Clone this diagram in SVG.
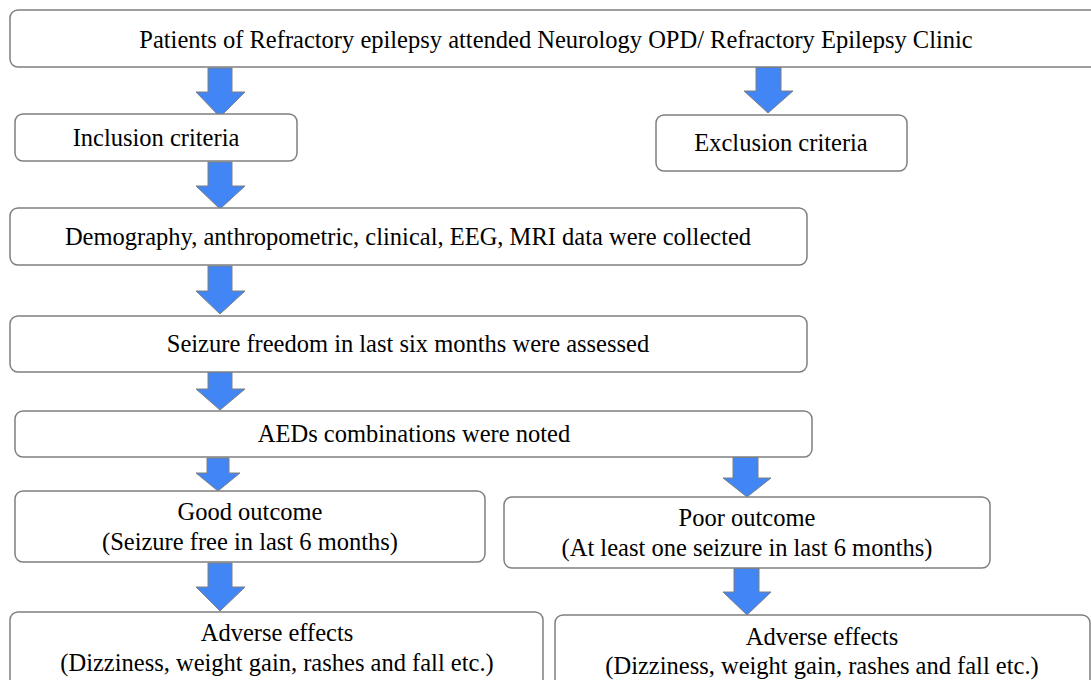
<svg xmlns="http://www.w3.org/2000/svg" width="1091" height="680" viewBox="0 0 1091 680">
<defs>
<style>
.box{fill:#fff;stroke:#7f7f7f;stroke-width:1.5}
.t{font-family:"Liberation Serif","Times New Roman",serif;font-size:24.5px;fill:#000;text-anchor:middle}
.arr{fill:#4285f4;stroke:#7f7f7f;stroke-width:1}
</style>
</defs>
<rect width="1091" height="680" fill="#fff"/>
<g id="connectors">
<path class="arr" d="M208,68 H232 V92 H245 L220,117 L196,92 H208 Z"/>
<path class="arr" d="M756,67 H781 V91 H793 L768,113 L744,91 H756 Z"/>
<path class="arr" d="M208,162 H232 V186 H245 L220,209 L196,186 H208 Z"/>
<path class="arr" d="M208,266 H232 V291 H245 L220,314 L196,291 H208 Z"/>
<path class="arr" d="M208,370 H232 V389 H245 L220,410 L196,389 H208 Z"/>
<path class="arr" d="M207,458 H229 V473 H240 L218,491 L196,473 H207 Z"/>
<path class="arr" d="M733,457 H758 V478 H771 L747,497 L723,478 H733 Z"/>
<path class="arr" d="M208,563 H232 V587 H245 L220,611 L196,587 H208 Z"/>
<path class="arr" d="M734,568 H759 V592 H771 L747,615 L723,592 H734 Z"/>
</g>
<g id="n1"><rect class="box" x="10" y="10" width="1090" height="57" rx="8"/><text class="t" x="556" y="48">Patients of Refractory epilepsy attended Neurology OPD/ Refractory Epilepsy Clinic</text></g>
<g id="n2"><rect class="box" x="15" y="114" width="282" height="47" rx="8"/><text class="t" x="156" y="146">Inclusion criteria</text></g>
<g id="n3"><rect class="box" x="656" y="115" width="251" height="56" rx="8"/><text class="t" x="781" y="151">Exclusion criteria</text></g>
<g id="n4"><rect class="box" x="10" y="208" width="797" height="57" rx="8"/><text class="t" x="408" y="245">Demography, anthropometric, clinical, EEG, MRI data were collected</text></g>
<g id="n5"><rect class="box" x="10" y="316" width="797" height="56" rx="8"/><text class="t" x="408" y="352">Seizure freedom in last six months were assessed</text></g>
<g id="n6"><rect class="box" x="15" y="411" width="797" height="46" rx="8"/><text class="t" x="414" y="442">AEDs combinations were noted</text></g>
<g id="n7"><rect class="box" x="15" y="491" width="470" height="71" rx="8"/><text class="t" x="250" y="520">Good outcome</text><text class="t" x="250" y="550">(Seizure free in last 6 months)</text></g>
<g id="n8"><rect class="box" x="504" y="497" width="486" height="71" rx="8"/><text class="t" x="747" y="526">Poor outcome</text><text class="t" x="747" y="556">(At least one seizure in last 6 months)</text></g>
<g id="n9"><rect class="box" x="10" y="612" width="533" height="80" rx="8"/><text class="t" x="277" y="641">Adverse effects</text><text class="t" x="277" y="671">(Dizziness, weight gain, rashes and fall etc.)</text></g>
<g id="n10"><rect class="box" x="555" y="615" width="535" height="80" rx="8"/><text class="t" x="822" y="645">Adverse effects</text><text class="t" x="822" y="674">(Dizziness, weight gain, rashes and fall etc.)</text></g>
</svg>
